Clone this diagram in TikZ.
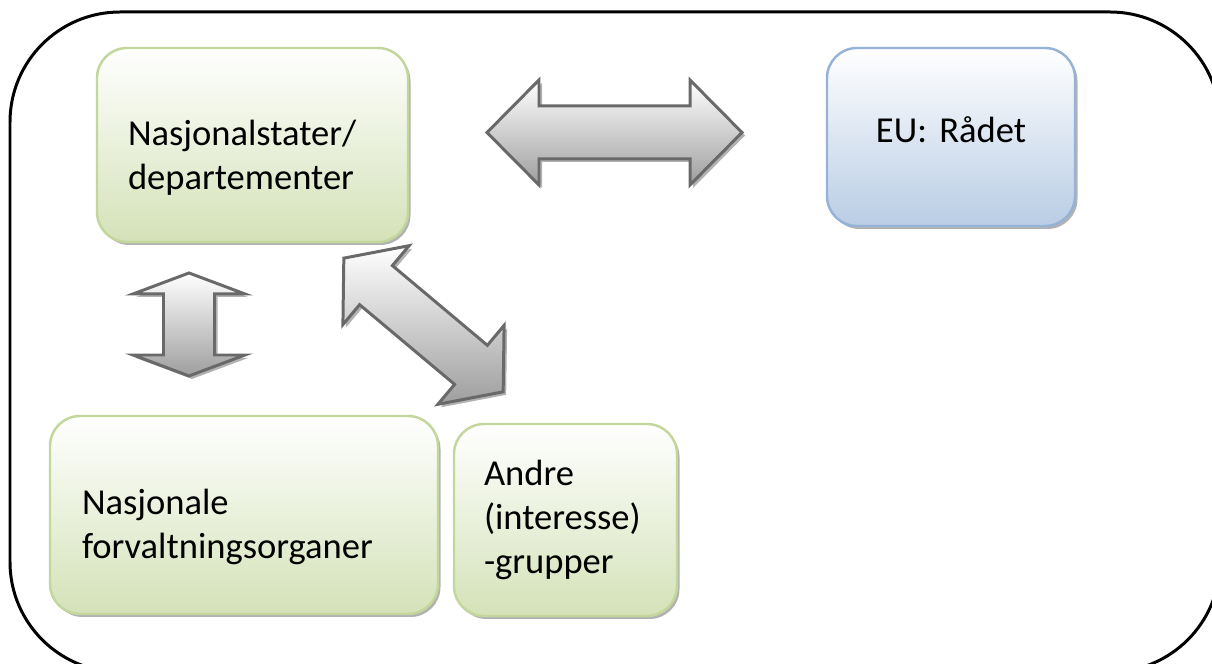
\documentclass[tikz,border=0pt]{standalone}
\usepackage{fontspec}
\setmainfont{Carlito}
\frenchspacing
\usetikzlibrary{shadows}

\definecolor{greenline}{RGB}{195,214,155}
\definecolor{greenfill}{RGB}{212,226,184}
\definecolor{blueline}{RGB}{149,179,215}
\definecolor{bluefill}{RGB}{185,205,229}
\definecolor{arrowline}{RGB}{105,105,105}
\definecolor{arrowfill}{RGB}{158,158,158}

% half length, head length, half head width, half shaft width
\newcommand{\dblarrowpath}[4]{%
  (-#1,0) -- (-#1+#2,#3) -- (-#1+#2,#4) -- (#1-#2,#4) -- (#1-#2,#3) -- (#1,0)
  -- (#1-#2,-#3) -- (#1-#2,-#4) -- (-#1+#2,-#4) -- (-#1+#2,-#3) -- cycle}

\tikzset{
  box/.style={rounded corners=0.6cm, line width=1.4pt, align=left,
    font=\fontsize{20.8pt}{25pt}\selectfont,
    drop shadow={shadow xshift=0.05cm, shadow yshift=-0.06cm, fill=black, opacity=0.3}},
  greenbox/.style={box, draw=greenline, top color=white, bottom color=greenfill},
  bluebox/.style={box, draw=blueline, top color=white, bottom color=bluefill},
  fatarrow/.style={draw=arrowline, line width=1.7pt, top color=white, bottom color=arrowfill,
    drop shadow={shadow xshift=0.06cm, shadow yshift=-0.06cm, fill=black, opacity=0.3}},
}

\begin{document}
\begin{tikzpicture}
  \useasboundingbox (0,0) rectangle (24.24,13.28);
  \clip (0,0) rectangle (24.24,13.28);
  \draw[line width=1.7pt, rounded corners=2.2cm] (0.2,13.04) rectangle (24.4,-0.16);%<- outer frame

  \node[greenbox, minimum height=3.88cm, inner xsep=0.62cm, text width=4.98cm]
    (stater) at (5.05,10.38) {\rule{0pt}{29pt}Nasjonalstater/\\departementer};
  \node[bluebox, minimum height=3.56cm, inner xsep=0.62cm, text width=3.72cm, align=center]
    (raadet) at (19.02,10.54) {EU: Rådet\rule[-8pt]{0pt}{8pt}};
  \node[greenbox, minimum height=3.96cm, inner xsep=0.64cm, text width=6.48cm]
    (forvaltning) at (4.88,2.98) {\rule{0pt}{28pt}Nasjonale\\forvaltningsorganer};
  \node[greenbox, minimum height=3.84cm, inner xsep=0.6cm, text width=3.26cm]
    (andre) at (11.31,2.88) {Andre\\(interesse)\\-grupper};

  \path[fatarrow, shift={(12.29,10.63)}] \dblarrowpath{2.55}{1.04}{1.05}{0.53};
  \path[fatarrow, shift={(3.78,6.79)}, rotate=90] \dblarrowpath{1.03}{0.42}{1.12}{0.51};
  \path[fatarrow, shift={(8.47,6.78)}, rotate=-40] \dblarrowpath{2.08}{0.84}{1.03}{0.51};
\end{tikzpicture}
\end{document}
